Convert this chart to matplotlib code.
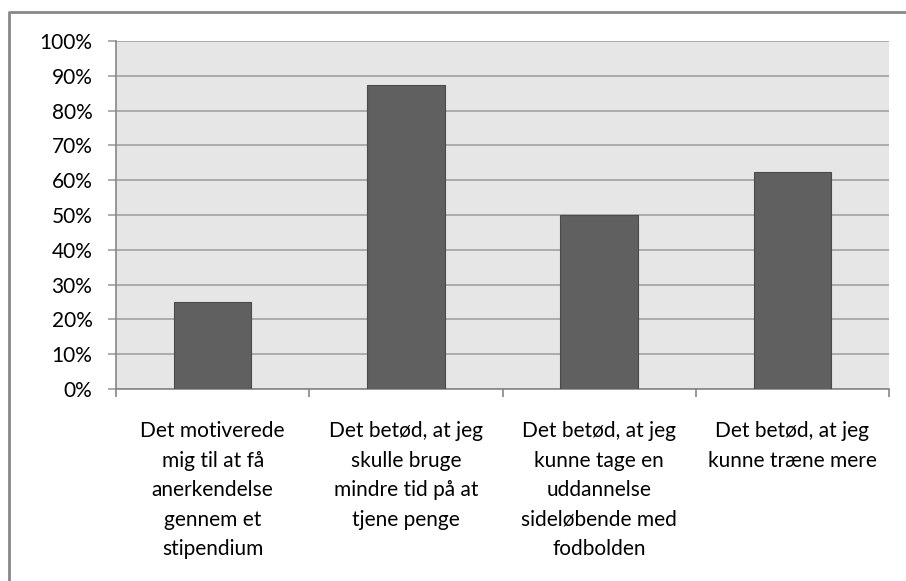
import matplotlib.pyplot as plt
from matplotlib.lines import Line2D
from matplotlib.ticker import PercentFormatter

categories = [
    "Det motiverede\nmig til at få\nanerkendelse\ngennem et\nstipendium",
    "Det betød, at jeg\nskulle bruge\nmindre tid på at\ntjene penge",
    "Det betød, at jeg\nkunne tage en\nuddannelse\nsideløbende med\nfodbolden",
    "Det betød, at jeg\nkunne træne mere",
]
values = [25, 87.5, 50, 62.5]
y_ticks = list(range(0, 101, 10))

plt.rcParams["font.family"] = ["Lato", "DejaVu Sans"]

fig = plt.figure(figsize=(9.06, 5.81), dpi=100)
ax = fig.add_axes([116 / 906, 192 / 581, 773 / 906, 348 / 581])

grid_col = "#a6a6a6"
ax.set_facecolor("#e6e6e6")
x = range(len(values))
ax.bar(x, values, width=0.4, color="#606060", edgecolor="#4a4a4a", linewidth=0.8, zorder=3)

ax.set_xlim(-0.5, len(values) - 0.5)
ax.set_ylim(0, 100)
ax.set_yticks(y_ticks)
ax.yaxis.set_major_formatter(PercentFormatter(decimals=0))
ax.grid(axis="y", color=grid_col, linewidth=1.3, zorder=1)
ax.set_axisbelow(True)

# category labels between boundary ticks
ax.set_xticks([i + 0.5 for i in range(-1, len(values))])
ax.set_xticklabels([])
ax.set_xticks(list(x), minor=True)
ax.set_xticklabels(categories, minor=True, fontsize=15, linespacing=1.6, va="top")
ax.tick_params(axis="x", which="minor", length=0, pad=23)
ax.tick_params(axis="x", which="major", length=6, color="#868686", width=1.2)
ax.tick_params(axis="y", length=6, color=grid_col, width=1.3, pad=11, labelsize=15)

for s in ["top", "right"]:
    ax.spines[s].set_visible(False)
for s in ["left", "bottom"]:
    ax.spines[s].set_color("#868686")
    ax.spines[s].set_linewidth(1.2)

# outer chart border (top and left visible)
fig.add_artist(Line2D([9 / 906, 9 / 906, 1.0], [0.0, 1 - 12 / 581, 1 - 12 / 581],
                      transform=fig.transFigure, color="#888888", linewidth=2))

fig.savefig("out.png", dpi=100)
